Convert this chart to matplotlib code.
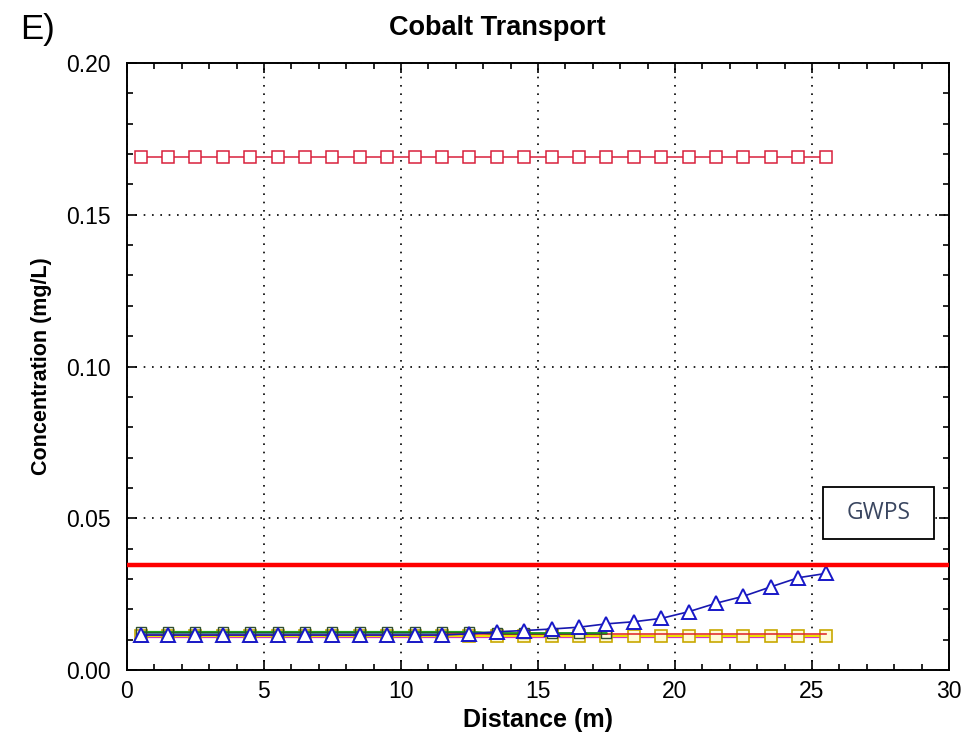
import numpy as np
import matplotlib
matplotlib.use("Agg")
import matplotlib.pyplot as plt
from matplotlib.patches import Rectangle
from matplotlib.ticker import MultipleLocator

plt.rcParams['font.family'] = ['Liberation Sans', 'DejaVu Sans']

# Sampling positions along the flow path (m)
distance = [0.5, 1.5, 2.5, 3.5, 4.5, 5.5, 6.5, 7.5, 8.5, 9.5, 10.5, 11.5, 12.5,
            13.5, 14.5, 15.5, 16.5, 17.5, 18.5, 19.5, 20.5, 21.5, 22.5, 23.5,
            24.5, 25.5]

# Source-zone concentration (mg/L)
source_conc = [0.169] * 26

# Downgradient plume concentration (mg/L)
plume_conc = [0.0115, 0.0115, 0.0115, 0.0115, 0.0115, 0.0115, 0.0115, 0.0115,
              0.0115, 0.0115, 0.0115, 0.0115, 0.0119, 0.0126, 0.0130, 0.0135,
              0.0141, 0.0152, 0.0159, 0.0170, 0.0192, 0.0220, 0.0243, 0.0274,
              0.0304, 0.0318]

# Background / other scenario concentrations (mg/L)
green_conc = [0.0126] * 13 + [0.0122] * 5
black_conc = [0.0124] * 13 + [0.0120] * 5
red_conc = [0.0119] * 26
cyan_conc = [0.0121] * 12
magenta_conc = [0.0108] * 26
yellow_conc = [0.0112] * 26
asterisk_conc = [0.0106] * 26

gwps = 0.0346

fig = plt.figure(figsize=(9.64, 7.46), dpi=100)
ax = fig.add_axes([0.1317, 0.1019, 0.8527, 0.8136])

ax.set_xlim(0, 30)
ax.set_ylim(0, 0.20)

ax.plot(distance, asterisk_conc, color='#303000', lw=0, marker='2',
        markersize=9, markeredgewidth=1.0, zorder=2)
ax.plot(distance, magenta_conc, color='#d020d0', lw=1.6, zorder=3)
ax.plot(distance, yellow_conc, color='#f0e000', lw=1.6, marker='s',
        markersize=8, markerfacecolor='#fffbd8', markeredgecolor='#c8a800',
        markeredgewidth=1.2, zorder=3)
ax.plot(distance, red_conc, color='#e03030', lw=1.2, zorder=3)
ax.plot(distance[:len(cyan_conc)], cyan_conc, color='#30c8e8', lw=1.2, zorder=3)
ax.plot(distance[:len(black_conc)], black_conc, color='#202020', lw=1.4, zorder=3)
ax.plot(distance[:len(green_conc)], green_conc, color='#20a020', lw=1.2,
        marker='s', markersize=7, markerfacecolor='none',
        markeredgecolor='#305030', markeredgewidth=1.0, zorder=3)
ax.plot(distance, plume_conc, color='#1818b0', lw=1.2, marker='^',
        markersize=10, markerfacecolor='white', markeredgecolor='#1818c8',
        markeredgewidth=1.4, zorder=4)

ax.plot(distance, source_conc, color='#d8203c', lw=1.1, marker='s',
        markersize=8, markerfacecolor='white', markeredgecolor='#d8203c',
        markeredgewidth=1.1, zorder=4)

ax.axhline(gwps, color='#ff0000', lw=3.2, zorder=5)

# GWPS label box
ax.add_patch(Rectangle((25.4, 0.0433), 4.05, 0.0171, facecolor='white',
                       edgecolor='black', lw=1.3, zorder=6))
ax.text(27.42, 0.0518, 'GWPS', ha='center', va='center', fontsize=16.5,
        color='#3a4660', family=['Open Sans', 'DejaVu Sans'], zorder=7)

ax.xaxis.set_major_locator(MultipleLocator(5))
ax.xaxis.set_minor_locator(MultipleLocator(1))
ax.yaxis.set_major_locator(MultipleLocator(0.05))
ax.yaxis.set_minor_locator(MultipleLocator(0.01))
ax.set_yticks([0, 0.05, 0.10, 0.15, 0.20])
ax.set_yticklabels(['0.00', '0.05', '0.10', '0.15', '0.20'])

ax.tick_params(which='both', direction='in', top=True, right=True,
               labelsize=16.5, width=1.2)
ax.tick_params(which='major', length=7)
ax.tick_params(axis='y', which='major', pad=12)
ax.tick_params(axis='x', which='major', pad=7)
ax.tick_params(which='minor', length=4)

ax.grid(True, which='major', linestyle=(0, (1, 4)), color='black', lw=1.2)

for s in ax.spines.values():
    s.set_linewidth(1.4)

fig.text(0.516, 0.962, 'Cobalt Transport', fontsize=19.5, fontweight='bold',
         ha='center', va='center')
ax.set_xlabel('Distance (m)', fontsize=18, fontweight='bold', labelpad=4)
ax.set_ylabel('Concentration (mg/L)', fontsize=15.5, fontweight='bold',
              labelpad=10)

fig.text(0.021, 0.938, 'E)', fontsize=25, ha='left', va='bottom')

fig.savefig('out.png', dpi=100, facecolor='white')
